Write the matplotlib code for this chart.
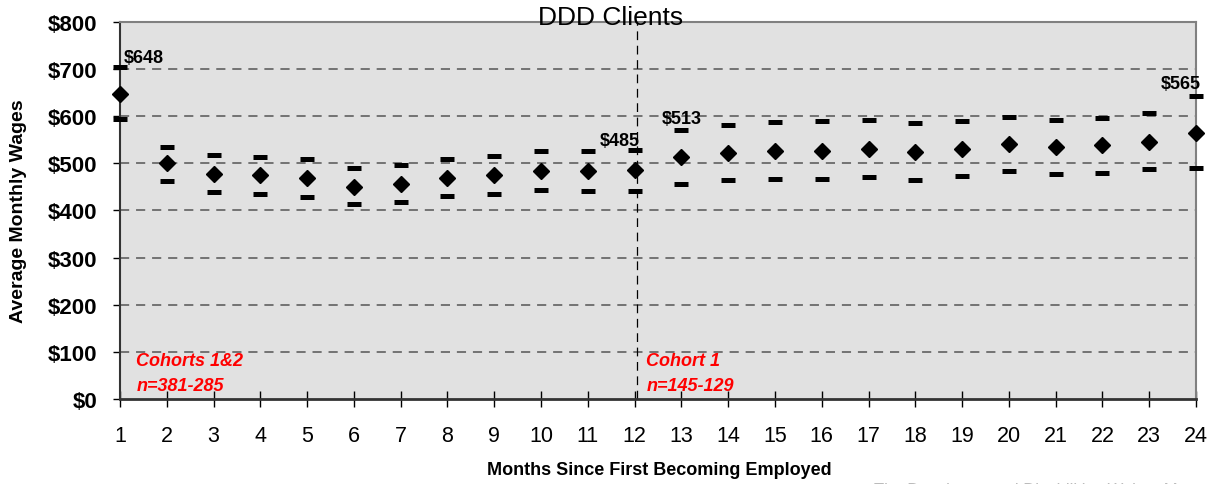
import matplotlib
matplotlib.use("Agg")
import matplotlib.pyplot as plt

# Data
months = list(range(1, 25))
avg_wage = [648, 500, 478, 476, 469, 450, 457, 469, 476, 484, 484, 485,
            513, 523, 527, 527, 531, 525, 531, 542, 535, 538, 545, 565]
upper = [704, 535, 517, 514, 510, 490, 497, 509, 516, 526, 527, 529,
         571, 581, 587, 589, 592, 585, 590, 599, 593, 596, 607, 643]
lower = [594, 463, 440, 435, 428, 414, 419, 431, 436, 444, 441, 442,
         456, 465, 467, 467, 472, 465, 474, 484, 477, 480, 487, 490]
y_ticks = [0, 100, 200, 300, 400, 500, 600, 700, 800]
y_ticklabels = ["$" + str(v) for v in y_ticks]
labeled = {1: "$648", 12: "$485", 13: "$513", 24: "$565"}
cohort_split = 12.05

plt.rcParams['font.family'] = ['Liberation Sans', 'DejaVu Sans']

fig = plt.figure(figsize=(12.14, 4.85), dpi=100)
ax = fig.add_axes([0.0988, 0.1753, 0.8864, 0.7773])
ax.set_facecolor('#e1e1e1')

# grid lines
for v in y_ticks[1:-1]:
    ax.axhline(v, color='#555555', lw=1.1, ls=(0, (6, 4.5)), zorder=1)
ax.axvline(cohort_split, color='black', lw=0.9, ls=(0, (7, 4.5)), zorder=2)

# means and bounds
ax.plot(months, upper, ls='none', marker='_', ms=10, mew=3.6, color='black',
        clip_on=False, zorder=4)
ax.plot(months, lower, ls='none', marker='_', ms=10, mew=3.6, color='black',
        clip_on=False, zorder=4)
ax.plot(months, avg_wage, ls='none', marker='D', ms=8.5, color='black',
        clip_on=False, zorder=5)

# value labels
lab_kw = dict(fontsize=13, fontweight='bold', va='bottom')
for m, txt in labeled.items():
    i = months.index(m)
    s = txt.replace("$", r"\$")
    if m == 1:
        ax.text(m + 0.08, upper[i] + 2, s, ha='left', **lab_kw)
    elif m == 24:
        ax.text(m + 0.1, upper[i] + 8, s, ha='right', **lab_kw)
    elif m == 12:
        ax.text(m + 0.12, upper[i] + 2, s, ha='right', **lab_kw)
    else:
        ax.text(m, upper[i] + 6, s, ha='center', **lab_kw)

# cohort notes
note_kw = dict(color='red', fontsize=13, fontweight='bold', style='italic',
               ha='left', va='center')
ax.text(1.35, 82, "Cohorts 1&2", **note_kw)
ax.text(1.35, 28, "n=381-285", **note_kw)
ax.text(12.25, 82, "Cohort 1", **note_kw)
ax.text(12.25, 28, "n=145-129", **note_kw)

ax.set_xlim(1, 24)
ax.set_ylim(0, 800)
ax.set_xticks(months)
ax.set_xticklabels([str(m) for m in months], fontsize=15.5)
ax.set_yticks(y_ticks)
ax.set_yticklabels(y_ticklabels, fontsize=16, fontweight='bold')
ax.tick_params(axis='x', direction='inout', length=11, width=1, pad=13)
ax.tick_params(axis='y', direction='out', length=5, width=1, pad=11)

for side in ['top', 'right']:
    ax.spines[side].set_color('#808080')
    ax.spines[side].set_linewidth(1.5)
ax.spines['left'].set_color('#333333')
ax.spines['left'].set_linewidth(1.5)
ax.spines['bottom'].set_color('#333333')
ax.spines['bottom'].set_linewidth(2)

fig.text(0.503, 0.962, "DDD Clients", fontsize=19, ha='center', va='center')
fig.text(0.543, 0.03, "Months Since First Becoming Employed", fontsize=13,
         fontweight='bold', ha='center', va='center')
fig.text(0.015, 0.565, "Average Monthly Wages", fontsize=14, fontweight='bold',
         rotation=90, ha='center', va='center')
fig.text(0.72, -0.012, "The Developmental Disabilities Waiver Managed",
         fontsize=12, color='#bbbbbb', ha='left', va='center')

fig.savefig("out.png", dpi=100)
